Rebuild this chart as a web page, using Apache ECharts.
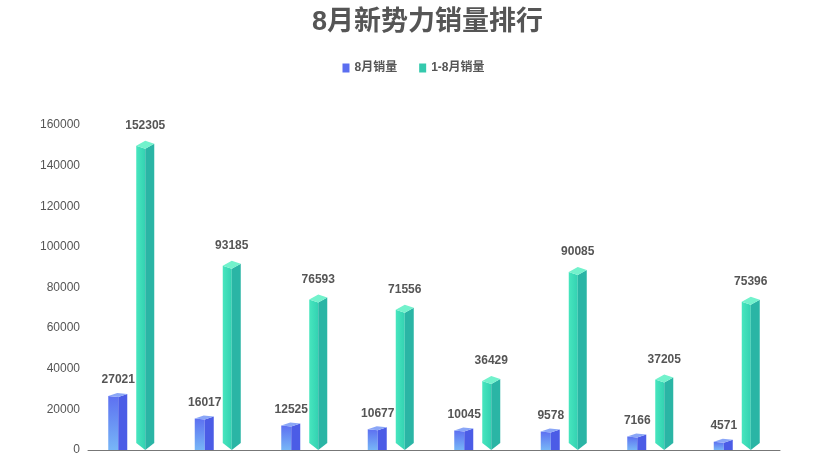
<!DOCTYPE html>
<html>
<head>
<meta charset="utf-8">
<script src="https://cdn.jsdelivr.net/npm/echarts@6/dist/echarts.min.js"></script>
<style>
  html, body { margin: 0; padding: 0; background: #fff; }
  #main { width: 827px; height: 460px; }
</style>
</head>
<body>
<div id="main"></div>
<script>
// 品牌
var brands = ['广汽埃安', '哪吒汽车', '零跑汽车', '蔚来汽车', '问界AITO', '小鹏汽车', '极氪汽车', '理想汽车'];
// 8月销量
var augSales = [27021, 16017, 12525, 10677, 10045, 9578, 7166, 4571];
// 1-8月销量
var ytdSales = [152305, 93185, 76593, 71556, 36429, 90085, 37205, 75396];
var yTicks = [0, 20000, 40000, 60000, 80000, 100000, 120000, 140000, 160000];

var FONT = '"Liberation Sans", "Noto Sans CJK SC", sans-serif';

// 8月销量 立方柱
function renderBlue(params, api) {
  var p = api.coord([api.value(0), api.value(1)]);
  var base = api.coord([api.value(0), 0]);
  var cx = p[0] - 13;
  var y = p[1], yb = base[1];
  return {
    type: 'group',
    children: [
      {
        type: 'polygon',
        shape: { points: [[cx - 10, y + 1], [cx, y + 2], [cx, yb], [cx - 10, yb]] },
        style: {
          fill: new echarts.graphic.LinearGradient(0, 0, 0, 1, [
            { offset: 0, color: '#5d70f1' },
            { offset: 1, color: '#77b6f7' }
          ])
        }
      },
      {
        type: 'polygon',
        shape: { points: [[cx, y + 2], [cx + 9, y - 1], [cx + 9, yb], [cx, yb]] },
        style: { fill: '#4b5ce6' }
      },
      {
        type: 'polygon',
        shape: { points: [[cx - 10, y + 1], [cx - 1, y - 2], [cx + 9, y - 1], [cx, y + 2]] },
        style: { fill: '#8aa6f7' }
      },
      {
        type: 'text',
        style: {
          x: cx, y: y - 15, text: String(api.value(1)),
          align: 'center', verticalAlign: 'middle',
          fill: '#555', font: 'bold 12px ' + FONT
        }
      }
    ]
  };
}

// 1-8月销量 菱柱
function renderGreen(params, api) {
  var p = api.coord([api.value(0), api.value(1)]);
  var base = api.coord([api.value(0), 0]);
  var xm = p[0] + 14;
  var y = p[1], yb = base[1];
  return {
    type: 'group',
    children: [
      {
        type: 'polygon',
        shape: { points: [[xm - 9, y + 5], [xm, y + 8], [xm, yb], [xm - 9, yb - 7]] },
        style: {
          fill: new echarts.graphic.LinearGradient(0, 0, 1, 0, [
            { offset: 0, color: '#47e6be' },
            { offset: 1, color: '#33d2b2' }
          ])
        }
      },
      {
        type: 'polygon',
        shape: { points: [[xm, y + 8], [xm + 9, y + 3], [xm + 9, yb - 7], [xm, yb]] },
        style: { fill: '#2ab5a5' }
      },
      {
        type: 'polygon',
        shape: { points: [[xm - 9, y + 5], [xm, y], [xm + 9, y + 3], [xm, y + 8]] },
        style: { fill: '#72f2cc' }
      },
      {
        type: 'text',
        style: {
          x: xm, y: y - 15, text: String(api.value(1)),
          align: 'center', verticalAlign: 'middle',
          fill: '#555', font: 'bold 12px ' + FONT
        }
      }
    ]
  };
}

var option = {
  backgroundColor: '#fff',
  title: {
    text: '8月新势力销量排行',
    left: 307,
    top: 4,
    textStyle: { fontSize: 27, fontWeight: 'bold', color: '#555', fontFamily: FONT }
  },
  legend: {
    top: 57,
    left: 'center',
    itemWidth: 7,
    itemHeight: 9,
    itemGap: 22,
    icon: 'rect',
    data: ['8月销量', '1-8月销量'],
    textStyle: { fontSize: 12, fontWeight: 'bold', color: '#555', fontFamily: FONT }
  },
  grid: { left: 88, right: 47, top: 125, bottom: 10, outerBoundsMode: 'none', containLabel: false },
  xAxis: {
    type: 'category',
    data: brands,
    axisTick: { show: false },
    axisLine: { lineStyle: { color: '#777' } },
    axisLabel: { margin: 13, color: '#999', fontSize: 12, fontFamily: FONT }
  },
  yAxis: {
    type: 'value',
    min: yTicks[0],
    max: yTicks[yTicks.length - 1],
    interval: 20000,
    axisLine: { show: false },
    axisTick: { show: false },
    splitLine: { show: false },
    axisLabel: {
      margin: 8, color: '#555', fontSize: 12, fontFamily: FONT,
      formatter: function (v) { return String(v); }
    }
  },
  series: [
    {
      name: '8月销量',
      type: 'custom',
      renderItem: renderBlue,
      itemStyle: { color: '#5b6ef0' },
      data: augSales.map(function (v, i) { return [i, v]; })
    },
    {
      name: '1-8月销量',
      type: 'custom',
      renderItem: renderGreen,
      itemStyle: { color: '#34c9ad' },
      data: ytdSales.map(function (v, i) { return [i, v]; })
    }
  ]
};

var myChart = echarts.init(document.getElementById('main'));
myChart.setOption(option);
window.addEventListener('resize', function () { myChart.resize(); });
</script>
</body>
</html>
